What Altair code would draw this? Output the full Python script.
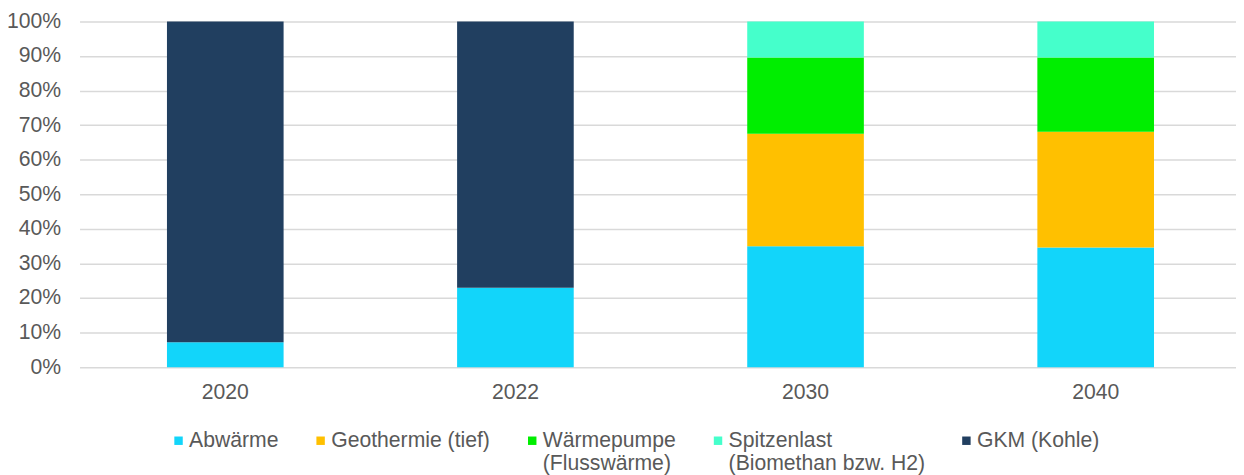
import altair as alt
import pandas as pd

years = ["2020", "2022", "2030", "2040"]
categories = [
    "Abwärme",
    "Geothermie (tief)",
    "Wärmepumpe (Flusswärme)",
    "Spitzenlast (Biomethan bzw. H2)",
    "GKM (Kohle)",
]
colors = ["#12D5FA", "#FFC000", "#00EE00", "#45FFCB", "#213F60"]

abwaerme = [7.2, 23.0, 35.0, 34.6]
geothermie = [0.0, 0.0, 32.5, 33.5]
waermepumpe = [0.0, 0.0, 22.1, 21.5]
spitzenlast = [0.0, 0.0, 10.4, 10.4]
gkm = [92.8, 77.0, 0.0, 0.0]

series = [abwaerme, geothermie, waermepumpe, spitzenlast, gkm]
rows = []
for ci, (cat, vals) in enumerate(zip(categories, series)):
    for yr, v in zip(years, vals):
        if v > 0:
            rows.append({"year": yr, "cat": cat, "value": v, "idx": ci})
df = pd.DataFrame(rows)

FONT = "Liberation Sans"
GRAY = "#595959"
FS = 21.3

# every legend label has two lines so that all entries share the same height
label_expr = (
    "datum.label == 'Wärmepumpe (Flusswärme)' ? ['Wärmepumpe', '(Flusswärme)'] : "
    "datum.label == 'Spitzenlast (Biomethan bzw. H2)' ? ['Spitzenlast', '(Biomethan bzw. H2)'] : "
    "[datum.label, '']"
)

chart = (
    alt.Chart(df)
    .mark_bar()
    .encode(
        x=alt.X(
            "year:N",
            sort=years,
            scale=alt.Scale(paddingInner=0.598, paddingOuter=0.292, align=0.516),
            axis=alt.Axis(
                title=None,
                labelAngle=0,
                ticks=False,
                domain=False,
                labelPadding=15,
                labelFont=FONT,
                labelFontSize=FS,
                labelColor=GRAY,
            ),
        ),
        y=alt.Y(
            "value:Q",
            stack="zero",
            scale=alt.Scale(domain=[0, 100], nice=False),
            axis=alt.Axis(
                title=None,
                values=list(range(0, 101, 10)),
                labelExpr="datum.value + '%'",
                domain=False,
                ticks=False,
                tickSize=0,
                grid=True,
                gridColor="#D9D9D9",
                gridWidth=1.5,
                labelPadding=19,
                labelFont=FONT,
                labelFontSize=FS,
                labelColor=GRAY,
            ),
        ),
        color=alt.Color(
            "cat:N",
            scale=alt.Scale(domain=categories, range=colors),
            legend=alt.Legend(
                title=None,
                orient="none",
                legendX=89,
                legendY=411,
                direction="horizontal",
                columns=5,
                columnPadding=31,
                symbolType="square",
                symbolSize=72,
                symbolStrokeWidth=0,
                labelFont=FONT,
                labelFontSize=FS,
                labelColor=GRAY,
                labelLimit=400,
                labelOffset=0,
                labelExpr=label_expr,
                padding=0,
            ),
        ),
        order=alt.Order("idx:Q"),
    )
    .properties(
        width=1164,
        height=348,
        autosize=alt.AutoSizeParams(type="none"),
        padding={"left": 72, "top": 12, "right": 0, "bottom": 107},
    )
    .configure_view(stroke=None)
)

chart.save("out.html", embed_options={"renderer": "svg", "actions": False})
